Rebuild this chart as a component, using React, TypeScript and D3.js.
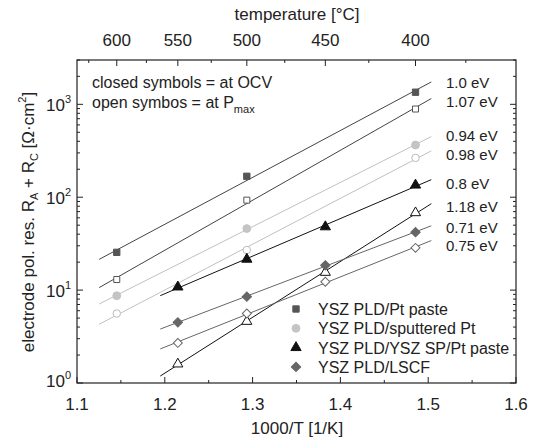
import React from 'react'
import * as d3 from 'd3'

// measurement temperatures [°C]
const tempsPt = [600, 500, 400]
const tempsSP = [550, 500, 450, 400]

// R_A + R_C [Ohm cm2]
const ptPasteOCV = [25.5, 168, 1350]
const ptPastePmax = [13, 93, 890]
const sputPtOCV = [8.7, 46, 365]
const sputPtPmax = [5.6, 27, 265]
const spOCV = [10.8, 21.5, 48, 135]
const spPmax = [1.6, 4.6, 15.5, 68]
const lscfOCV = [4.5, 8.5, 18.5, 42]
const lscfPmax = [2.7, 5.6, 12.3, 28.5]

const eaLabels = ['1.0 eV', '1.07 eV', '0.94 eV', '0.98 eV', '0.8 eV', '1.18 eV', '0.71 eV', '0.75 eV']
const eaLabelY = [83, 102, 136, 155, 184, 207, 228, 246]

const legendNames = ['YSZ PLD/Pt paste', 'YSZ PLD/sputtered Pt', 'YSZ PLD/YSZ SP/Pt paste', 'YSZ PLD/LSCF']

const xTicks = [1.1, 1.2, 1.3, 1.4, 1.5, 1.6]
const topTicks = [600, 550, 500, 450, 400]

const toX = (c: number) => 1000 / (c + 273.15)

const series = [
  { temps: tempsPt, vals: ptPasteOCV, shape: d3.symbolSquare, rot: 0, fill: '#555', stroke: '#555', line: '#444', size: 40 },
  { temps: tempsPt, vals: ptPastePmax, shape: d3.symbolSquare, rot: 0, fill: '#fff', stroke: '#555', line: '#444', size: 36 },
  { temps: tempsPt, vals: sputPtOCV, shape: d3.symbolCircle, rot: 0, fill: '#c4c4c4', stroke: '#c4c4c4', line: '#c0c0c0', size: 48 },
  { temps: tempsPt, vals: sputPtPmax, shape: d3.symbolCircle, rot: 0, fill: '#fff', stroke: '#bbb', line: '#c0c0c0', size: 44 },
  { temps: tempsSP, vals: spOCV, shape: d3.symbolTriangle, rot: 0, fill: '#111', stroke: '#111', line: '#111', size: 46 },
  { temps: tempsSP, vals: spPmax, shape: d3.symbolTriangle, rot: 0, fill: '#fff', stroke: '#111', line: '#111', size: 44 },
  { temps: tempsSP, vals: lscfOCV, shape: d3.symbolSquare, rot: 45, fill: '#666', stroke: '#666', line: '#666', size: 44 },
  { temps: tempsSP, vals: lscfPmax, shape: d3.symbolSquare, rot: 45, fill: '#fff', stroke: '#666', line: '#666', size: 40 },
]

const legendSym = [series[0], series[2], series[4], series[6]]

const L = 77, R = 516, T = 60, B = 383
const x = d3.scaleLinear().domain([1.1, 1.6]).range([L, R])
const y = d3.scaleLog().domain([1, 3000]).range([B, T])

const font = 'Liberation Sans, Arial, sans-serif'
const ink = '#222'

function fitLine(xs: number[], ys: number[]) {
  const ly = ys.map(Math.log10)
  const mx = d3.mean(xs)!, my = d3.mean(ly)!
  const sxy = d3.sum(xs, (v, i) => (v - mx) * (ly[i] - my))
  const sxx = d3.sum(xs, v => (v - mx) * (v - mx))
  const b = sxy / sxx
  const a = my - b * mx
  const x0 = d3.min(xs)! - 0.02, x1 = d3.max(xs)! + 0.018
  return [[x0, Math.pow(10, a + b * x0)], [x1, Math.pow(10, a + b * x1)]]
}

const Sup = ({ exp, xx, yy }: { exp: string; xx: number; yy: number }) => (
  <text x={xx} y={yy} textAnchor="end" fontSize={17} fontFamily={font} fill={ink}>
    10<tspan fontSize={11} dy={-8}>{exp}</tspan>
  </text>
)

export default function App() {
  const lineGen = d3.line<number[]>().x(d => x(d[0])).y(d => y(d[1]))
  const minorY: number[] = []
  for (let e = 0; e < 4; e++) for (let m = 2; m <= 9; m++) {
    const v = m * Math.pow(10, e)
    if (v <= 3000) minorY.push(v)
  }
  const minorX = d3.range(1.15, 1.6, 0.1)
  const minorTop = d3.range(375, 650, 50)

  return (
    <svg width={534} height={442} style={{ position: 'absolute', left: 0, top: 0, background: '#fff' }}>
      {/* titles */}
      <text x={297} y={20} textAnchor="middle" fontSize={17} fontFamily={font} fill={ink}>temperature [°C]</text>
      <text x={297} y={434} textAnchor="middle" fontSize={17} fontFamily={font} fill={ink}>1000/T [1/K]</text>
      <text transform="translate(34,222) rotate(-90)" textAnchor="middle" fontSize={17} fontFamily={font} fill={ink}>
        electrode pol. res. R<tspan fontSize={11} dy={4}>A</tspan><tspan dy={-4}> + R</tspan>
        <tspan fontSize={11} dy={4}>C</tspan><tspan dy={-4}> [Ω·cm</tspan>
        <tspan fontSize={11} dy={-8}>2</tspan><tspan dy={8}>]</tspan>
      </text>

      {/* frame */}
      <rect x={L} y={T} width={R - L} height={B - T} fill="none" stroke={ink} strokeWidth={1.2} />

      {/* bottom axis */}
      {xTicks.map(t => (
        <g key={'bx' + t}>
          <line x1={x(t)} x2={x(t)} y1={B} y2={B - 6} stroke={ink} />
          <text x={x(t)} y={410} textAnchor="middle" fontSize={17} fontFamily={font} fill={ink}>{t.toFixed(1)}</text>
        </g>
      ))}
      {minorX.map(t => <line key={'mx' + t} x1={x(t)} x2={x(t)} y1={B} y2={B - 3} stroke={ink} />)}

      {/* top axis */}
      {topTicks.map(t => (
        <g key={'tx' + t}>
          <line x1={x(toX(t))} x2={x(toX(t))} y1={T} y2={T + 6} stroke={ink} />
          <text x={x(toX(t))} y={46} textAnchor="middle" fontSize={17} fontFamily={font} fill={ink}>{t}</text>
        </g>
      ))}
      {minorTop.map(t => <line key={'mt' + t} x1={x(toX(t))} x2={x(toX(t))} y1={T} y2={T + 3} stroke={ink} />)}

      {/* left & right axes */}
      {[1, 10, 100, 1000].map((v, i) => (
        <g key={'ly' + v}>
          <line x1={L} x2={L + 6} y1={y(v)} y2={y(v)} stroke={ink} />
          <line x1={R} x2={R - 6} y1={y(v)} y2={y(v)} stroke={ink} />
          <Sup exp={String(i)} xx={71} yy={y(v) + (i === 0 ? 4 : 7)} />
        </g>
      ))}
      {minorY.map(v => (
        <g key={'my' + v}>
          <line x1={L} x2={L + 3} y1={y(v)} y2={y(v)} stroke={ink} />
          <line x1={R} x2={R - 3} y1={y(v)} y2={y(v)} stroke={ink} />
        </g>
      ))}

      {/* fit lines */}
      {series.map((s, i) => (
        <path key={'fl' + i} d={lineGen(fitLine(s.temps.map(toX), s.vals)) || ''} fill="none" stroke={s.line} strokeWidth={1} />
      ))}

      {/* markers */}
      {series.map((s, i) => s.vals.map((v, j) => (
        <path key={'pt' + i + '-' + j}
          transform={`translate(${x(toX(s.temps[j]))},${y(v)}) rotate(${s.rot})`}
          d={d3.symbol().type(s.shape).size(s.size)() || ''}
          fill={s.fill} stroke={s.stroke} strokeWidth={1} />
      )))}

      {/* activation energies */}
      {eaLabels.map((t, i) => (
        <text key={'ea' + i} x={446} y={eaLabelY[i] + 5} fontSize={15} fontFamily={font} fill={ink}>{t}</text>
      ))}

      {/* notes */}
      <text x={92} y={88} fontSize={16} fontFamily={font} fill={ink}>closed symbols = at OCV</text>
      <text x={92} y={108} fontSize={16} fontFamily={font} fill={ink}>
        open symbos = at P<tspan fontSize={11} dy={5}>max</tspan>
      </text>

      {/* legend */}
      {legendNames.map((n, i) => (
        <g key={'lg' + i} transform={`translate(0,${309 + i * 19.3})`}>
          <path transform={`translate(296,0) rotate(${legendSym[i].rot})`} d={d3.symbol().type(legendSym[i].shape).size(legendSym[i].size)() || ''}
            fill={legendSym[i].fill} stroke={legendSym[i].stroke} />
          <text x={318} y={6} fontSize={16} fontFamily={font} fill={ink}>{n}</text>
        </g>
      ))}
    </svg>
  )
}
